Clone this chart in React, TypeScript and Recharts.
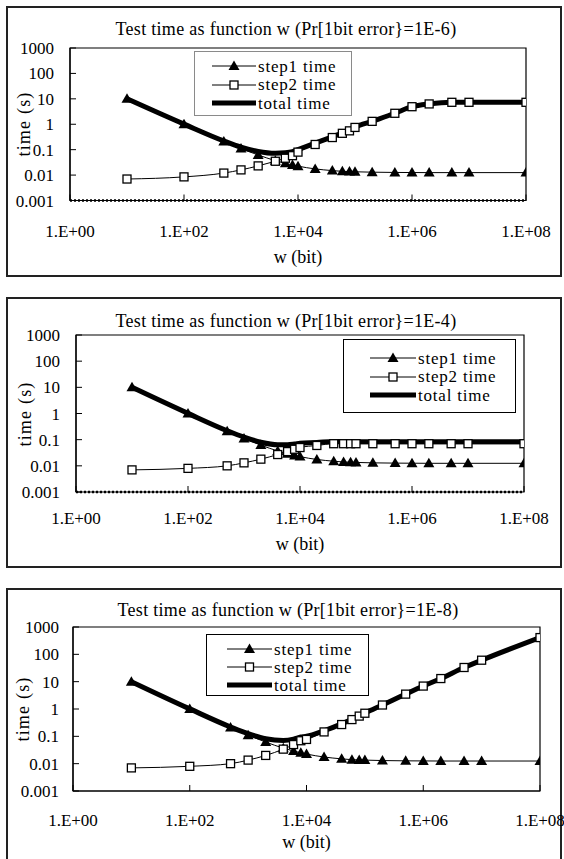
import { Line, LineChart, ReferenceArea, XAxis, YAxis } from 'recharts'

// w values (bit) shared by every panel
const wBits = [
  10, 100, 500, 1000, 2000, 4000, 6000, 8000, 10000, 20000, 40000, 60000, 80000, 100000, 200000, 500000,
  1000000, 2000000, 5000000, 10000000, 100000000,
]

const step1Time = [
  10, 1, 0.21, 0.11, 0.062, 0.037, 0.029, 0.025, 0.0225, 0.0175, 0.015, 0.014, 0.0137, 0.0135, 0.013, 0.0127,
  0.0126, 0.0125, 0.0125, 0.0125, 0.0125,
]

// Pr[1bit error] = 1E-6
const step2Time1E6 = [
  0.007, 0.0085, 0.012, 0.016, 0.023, 0.035, 0.046, 0.058, 0.08, 0.16, 0.3, 0.44, 0.55, 0.75, 1.3, 2.7, 4.9, 6.3,
  7.3, 7.3, 7.3,
]
const totalTime1E6 = [
  10, 1.01, 0.22, 0.126, 0.085, 0.072, 0.075, 0.083, 0.1, 0.18, 0.32, 0.45, 0.56, 0.76, 1.31, 2.71, 4.91, 6.31,
  7.31, 7.31, 7.31,
]

// Pr[1bit error] = 1E-4
const step2Time1E4 = [
  0.007, 0.008, 0.01, 0.013, 0.018, 0.027, 0.035, 0.043, 0.05, 0.06, 0.07, 0.07, 0.07, 0.07, 0.07, 0.07, 0.07,
  0.07, 0.07, 0.07, 0.07,
]
const totalTime1E4 = [
  10, 1.01, 0.22, 0.125, 0.08, 0.064, 0.064, 0.068, 0.0725, 0.0775, 0.085, 0.084, 0.084, 0.083, 0.083, 0.083,
  0.083, 0.083, 0.083, 0.083, 0.083,
]

// Pr[1bit error] = 1E-8
const step2Time1E8 = [
  0.007, 0.008, 0.01, 0.0135, 0.02, 0.034, 0.05, 0.069, 0.077, 0.145, 0.27, 0.41, 0.55, 0.7, 1.4, 3.5, 6.9, 13,
  33, 61, 410,
]
const totalTime1E8 = [
  10, 1.01, 0.22, 0.125, 0.082, 0.071, 0.079, 0.094, 0.1, 0.16, 0.285, 0.42, 0.56, 0.71, 1.41, 3.51, 6.91, 13,
  33, 61, 410,
]

const xTickValues = [1, 100, 10000, 1000000, 100000000]
const xTickLabels = ['1.E+00', '1.E+02', '1.E+04', '1.E+06', '1.E+08']
const yTickValues = [0.001, 0.01, 0.1, 1, 10, 100, 1000]
const yTickLabels = ['0.001', '0.01', '0.1', '1', '10', '100', '1000']

const titles = [
  'Test time as function w (Pr[1bit error}=1E-6)',
  'Test time as function w (Pr[1bit error}=1E-4)',
  'Test time as function w (Pr[1bit error}=1E-8)',
]
const seriesNames = ['step1 time', 'step2 time', 'total time']

const FONT = '"Liberation Serif", Tinos, "Times New Roman", Times, "Nimbus Roman", "DejaVu Serif", serif'

const buildRows = (step2: number[], total: number[]) =>
  wBits.map((w, i) => ({ w, step1: step1Time[i], step2: step2[i], total: total[i] }))

const renderTriangle = (props: any) => {
  const { cx, cy, index } = props
  if (cx == null || cy == null) return <g key={`t${index}`} />
  return <path key={`t${index}`} d={`M${cx},${cy - 5.5}L${cx + 5.5},${cy + 4}L${cx - 5.5},${cy + 4}Z`} fill="#000" />
}

const renderSquare = (props: any) => {
  const { cx, cy, index } = props
  if (cx == null || cy == null) return <g key={`s${index}`} />
  return <rect key={`s${index}`} x={cx - 4} y={cy - 4} width={8} height={8} fill="#fff" stroke="#000" strokeWidth={1.3} />
}

function LegendSample({ kind, width }: { kind: number; width: number }) {
  const mid = width / 2
  return (
    <svg width={width} height={12} style={{ display: 'block', flex: 'none' }}>
      <line x1={0} x2={width} y1={6} y2={6} stroke="#000" strokeWidth={kind === 2 ? 5 : 1} />
      {kind === 0 && <path d={`M${mid},0.5L${mid + 5.5},10L${mid - 5.5},10Z`} fill="#000" />}
      {kind === 1 && <rect x={mid - 4} y={2} width={8} height={8} fill="#fff" stroke="#000" strokeWidth={1.3} />}
    </svg>
  )
}

type PanelConfig = {
  top: number
  height: number
  title: string
  rows: ReturnType<typeof buildRows>
  margin: { top: number; right: number; bottom: number; left: number }
  xTickMargin: number
  yTickMargin: number
  dashedAxis: boolean
  frame: { top: number; height: number }
  titleY: number
  titleX: number
  wBitY: number
  timeX: number
  legend: { left: number; top: number; width: number; height: number; border: string; padTop: number; rowH: number; sampleLeft: number; sampleW: number }
}

function Panel({ cfg }: { cfg: PanelConfig }) {
  const plotLeft = cfg.margin.left + 60
  const plotRight = 564 - cfg.margin.right
  const plotTop = cfg.top + cfg.margin.top
  const plotBottom = cfg.top + cfg.height - cfg.margin.bottom - 40
  const lg = cfg.legend
  return (
    <>
      <div
        style={{
          position: 'absolute',
          left: 6,
          top: cfg.frame.top,
          width: 556,
          height: cfg.frame.height,
          border: '2px solid #222',
          boxSizing: 'border-box',
        }}
      />
      <div style={{ position: 'absolute', left: 0, top: cfg.top }}>
        <LineChart width={564} height={cfg.height} data={cfg.rows} margin={cfg.margin}>
          <ReferenceArea x1={1} x2={100000000} y1={0.001} y2={1000} fill="none" stroke="#000" strokeWidth={1.2} />
          <XAxis
            dataKey="w"
            type="number"
            scale="log"
            domain={[1, 100000000]}
            ticks={xTickValues}
            interval={0}
            allowDataOverflow
            height={40}
            tickSize={-6}
            tickMargin={cfg.xTickMargin}
            tickFormatter={(v) => xTickLabels[xTickValues.indexOf(Number(v))] ?? ''}
            tick={{ fill: '#000', fontSize: 17, fontFamily: FONT }}
            tickLine={{ stroke: '#000' }}
            axisLine={
              cfg.dashedAxis
                ? { stroke: '#000', strokeWidth: 2.5, strokeDasharray: '2 2' }
                : { stroke: '#000', strokeWidth: 1.2 }
            }
          />
          <YAxis
            type="number"
            scale="log"
            domain={[0.001, 1000]}
            ticks={yTickValues}
            interval={0}
            allowDataOverflow
            width={60}
            tickSize={-6}
            tickMargin={cfg.yTickMargin}
            tickFormatter={(v) => yTickLabels[yTickValues.indexOf(Number(v))] ?? ''}
            tick={{ fill: '#000', fontSize: 17, fontFamily: FONT }}
            tickLine={{ stroke: '#000' }}
            axisLine={{ stroke: '#000', strokeWidth: 1.2 }}
          />
          <Line type="monotone" dataKey="total" stroke="#000" strokeWidth={5} dot={false} activeDot={false} isAnimationActive={false} />
          <Line type="monotone" dataKey="step1" stroke="#000" strokeWidth={1} dot={renderTriangle} activeDot={false} isAnimationActive={false} />
          <Line type="monotone" dataKey="step2" stroke="#000" strokeWidth={1} dot={renderSquare} activeDot={false} isAnimationActive={false} />
        </LineChart>
      </div>
      <div
        style={{
          position: 'absolute',
          left: cfg.titleX,
          top: cfg.titleY,
          transform: 'translate(-50%, -50%)',
          whiteSpace: 'nowrap',
          fontSize: 18,
          letterSpacing: 0.3,
          lineHeight: 1,
        }}
      >
        {cfg.title}
      </div>
      <div
        style={{
          position: 'absolute',
          left: (plotLeft + plotRight) / 2,
          top: cfg.wBitY,
          transform: 'translate(-50%, -50%)',
          whiteSpace: 'nowrap',
          fontSize: 18,
          lineHeight: 1,
        }}
      >
        w (bit)
      </div>
      <div
        style={{
          position: 'absolute',
          left: cfg.timeX,
          top: (plotTop + plotBottom) / 2,
          transform: 'translate(-50%, -50%) rotate(-90deg)',
          whiteSpace: 'nowrap',
          fontSize: 18,
          letterSpacing: 1.2,
          lineHeight: 1,
        }}
      >
        time (s)
      </div>
      <div
        style={{
          position: 'absolute',
          left: lg.left,
          top: lg.top,
          width: lg.width,
          height: lg.height,
          border: lg.border,
          boxSizing: 'border-box',
          background: '#fff',
          paddingTop: lg.padTop,
        }}
      >
        {seriesNames.map((name, i) => (
          <div key={name} style={{ display: 'flex', alignItems: 'center', height: lg.rowH, paddingLeft: lg.sampleLeft }}>
            <LegendSample kind={i} width={lg.sampleW} />
            <span style={{ fontSize: 17, letterSpacing: 0.8, marginLeft: 2, whiteSpace: 'nowrap', lineHeight: 1 }}>{name}</span>
          </div>
        ))}
      </div>
    </>
  )
}

const panels: PanelConfig[] = [
  {
    top: 0,
    height: 280,
    title: titles[0],
    rows: buildRows(step2Time1E6, totalTime1E6),
    margin: { top: 48, right: 38, bottom: 39.5, left: 10 },
    xTickMargin: 30,
    yTickMargin: 22,
    dashedAxis: true,
    frame: { top: 6, height: 271 },
    titleY: 29,
    titleX: 286,
    wBitY: 257,
    timeX: 24,
    legend: { left: 194, top: 51, width: 158, height: 65, border: '1px solid #8a8a8a', padTop: 5, rowH: 18.6, sampleLeft: 17, sampleW: 44 },
  },
  {
    top: 290,
    height: 280,
    title: titles[1],
    rows: buildRows(step2Time1E4, totalTime1E4),
    margin: { top: 45, right: 40, bottom: 38, left: 16 },
    xTickMargin: 25.5,
    yTickMargin: 22,
    dashedAxis: true,
    frame: { top: 297, height: 271 },
    titleY: 321,
    titleX: 286,
    wBitY: 544,
    timeX: 25,
    legend: { left: 343, top: 339, width: 173, height: 74, border: '1.5px solid #000', padTop: 9, rowH: 18.5, sampleLeft: 26, sampleW: 46 },
  },
  {
    top: 575,
    height: 284,
    title: titles[2],
    rows: buildRows(step2Time1E8, totalTime1E8),
    margin: { top: 52, right: 24, bottom: 28, left: 13 },
    xTickMargin: 28.5,
    yTickMargin: 20,
    dashedAxis: false,
    frame: { top: 588, height: 300 },
    titleY: 610,
    titleX: 288,
    wBitY: 842,
    timeX: 23,
    legend: { left: 206, top: 634, width: 163, height: 62, border: '1.5px solid #000', padTop: 5, rowH: 18, sampleLeft: 20, sampleW: 45 },
  },
]

export default function App() {
  return (
    <div
      style={{
        position: 'absolute',
        left: 0,
        top: 0,
        width: 564,
        height: 859,
        overflow: 'hidden',
        background: '#fff',
        fontFamily: FONT,
        color: '#000',
      }}
    >
      {panels.map((cfg) => (
        <Panel key={cfg.title} cfg={cfg} />
      ))}
    </div>
  )
}
